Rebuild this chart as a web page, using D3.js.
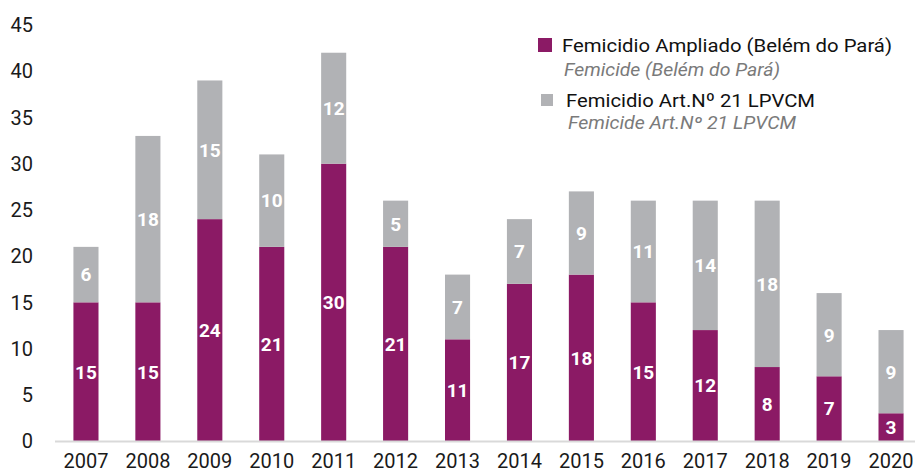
<!DOCTYPE html>
<html>
<head>
<meta charset="utf-8">
<script src="https://cdn.jsdelivr.net/npm/d3@7/dist/d3.min.js"></script>
<style>
  body { margin: 0; background: #fff; }
  svg { display: block; font-family: Roboto, "Noto Sans", sans-serif; }
</style>
</head>
<body>
<svg id="chart" width="915" height="474"></svg>
<script>
// datos
const years = ['2007','2008','2009','2010','2011','2012','2013','2014','2015','2016','2017','2018','2019','2020'];
const ampliado = [15,15,24,21,30,21,11,17,18,15,12,8,7,3];
const art21 = [6,18,15,10,12,5,7,7,9,11,14,18,9,9];
const yTicks = [0,5,10,15,20,25,30,35,40,45];

const series = [
  {key:'ampliado', name:'Femicidio Ampliado (Belém do Pará)', sub:'Femicide (Belém do Pará)', color:'#8b1a65'},
  {key:'art21', name:'Femicidio Art.Nº 21 LPVCM', sub:'Femicide Art.Nº 21 LPVCM', color:'#b1b2b5'}
];

const rows = years.map((y,i)=>({year:y, ampliado:ampliado[i], art21:art21[i]}));
const stack = d3.stack().keys(series.map(s=>s.key))(rows);

const svg = d3.select('#chart');
const x = d3.scaleBand().domain(years).range([55, 922]).paddingInner(0.595).paddingOuter(0.2975);
const y = d3.scaleLinear().domain([0,45]).range([441, 25]);

// eje y (solo etiquetas)
svg.append('g')
  .selectAll('text').data(yTicks).enter()
  .append('text')
  .attr('x', 33).attr('y', d=>y(d))
  .attr('dy','0.36em')
  .attr('text-anchor','end')
  .attr('font-size', 20).attr('fill','#1a1a1a')
  .text(d=>d);

// barras
const layers = svg.append('g').selectAll('g').data(stack).enter()
  .append('g').attr('fill',(d,i)=>series[i].color);
layers.selectAll('rect').data(d=>d).enter()
  .append('rect')
  .attr('x', d=>x(d.data.year))
  .attr('width', x.bandwidth())
  .attr('y', d=>y(d[1]))
  .attr('height', d=>y(d[0])-y(d[1]));

// etiquetas dentro de las barras
layers.selectAll('text').data(d=>d).enter()
  .append('text')
  .attr('x', d=>x(d.data.year)+x.bandwidth()/2)
  .attr('y', d=>(y(d[0])+y(d[1]))/2)
  .attr('dy','0.36em')
  .attr('text-anchor','middle')
  .attr('font-size', 19).attr('font-weight','bold').attr('fill','#fff')
  .text(d=>d[1]-d[0]);

// linea base
svg.append('line')
  .attr('x1', 55).attr('x2', 915)
  .attr('y1', y(0)+0.5).attr('y2', y(0)+0.5)
  .attr('stroke','#d9d9d9').attr('stroke-width',2);

// eje x
svg.append('g')
  .selectAll('text').data(years).enter()
  .append('text')
  .attr('x', d=>x(d)+x.bandwidth()/2)
  .attr('y', 461).attr('dy','0.36em')
  .attr('text-anchor','middle')
  .attr('font-size', 20).attr('fill','#1a1a1a')
  .text(d=>d);

// leyenda
const leg = [
  {sx:538, sy:38, size:14, tx:562, ty:45, w:330, sty:70, sw:216},
  {sx:541, sy:94, size:12, tx:566, ty:100, w:249, sty:123, sw:228}
];
series.forEach((s,i)=>{
  const p = leg[i];
  const g = svg.append('g');
  g.append('rect').attr('x',p.sx).attr('y',p.sy).attr('width',p.size).attr('height',p.size).attr('fill',s.color);
  g.append('text').attr('x',p.tx).attr('y',p.ty).attr('dy','0.36em')
    .attr('font-size',19).attr('fill','#111')
    .attr('textLength',p.w).attr('lengthAdjust','spacingAndGlyphs')
    .text(s.name);
  g.append('text').attr('x',p.tx+2).attr('y',p.sty).attr('dy','0.36em')
    .attr('font-size',17.5).attr('font-style','italic').attr('fill','#7a7a7a')
    .attr('textLength',p.sw).attr('lengthAdjust','spacingAndGlyphs')
    .text(s.sub);
});
</script>
</body>
</html>
